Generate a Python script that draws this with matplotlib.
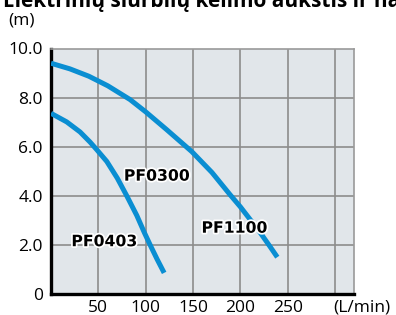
import matplotlib
matplotlib.use("Agg")
import matplotlib.pyplot as plt
import matplotlib.patheffects as pe
import matplotlib.transforms as mtransforms

plt.rcParams['font.family'] = ['Open Sans', 'DejaVu Sans']

# Data
pf0300_flow = [0, 20, 40, 60, 83.5, 100, 122, 148.7, 170, 189, 200, 220, 231, 239]
pf0300_head = [9.4, 9.17, 8.87, 8.48, 7.92, 7.42, 6.7, 5.8, 4.95, 4.05, 3.55, 2.55, 1.95, 1.5]
pf0403_flow = [0, 16.6, 30.7, 41.2, 48.3, 58.9, 70, 80, 90.6, 98.6, 104.7, 112, 119.5]
pf0403_head = [7.36, 7.01, 6.6, 6.19, 5.88, 5.4, 4.72, 4.0, 3.2, 2.5, 2.0, 1.42, 0.86]

labels = ["PF0300", "PF1100", "PF0403"]
label_x = [112, 194, 56.5]
label_y = [4.8, 2.68, 2.13]

xticks = [50, 100, 150, 200, 250]
yticks = [0, 2, 4, 6, 8, 10]
ytick_labels = ["0", "2.0", "4.0", "6.0", "8.0", "10.0"]
grid_x = [50, 100, 150, 200, 250, 300]

W, H = 396, 315
fig = plt.figure(figsize=(W / 100, H / 100), dpi=100)
ax = fig.add_axes([51 / W, (H - 294) / H, (354 - 51) / W, (294 - 48.5) / H])
ax.set_facecolor('#e1e6ea')
ax.set_xlim(0, 320)
ax.set_ylim(0, 10)

for gx in grid_x:
    ax.axvline(gx, color='#8c8c8c', lw=1.2, zorder=1)
for gy in yticks[1:-1]:
    ax.axhline(gy, color='#8c8c8c', lw=1.2, zorder=1)

blue = '#0a8ed2'
ax.plot(pf0300_flow, pf0300_head, color=blue, lw=3.6, solid_capstyle='butt',
        solid_joinstyle='round', zorder=3)
ax.plot(pf0403_flow, pf0403_head, color=blue, lw=3.6, solid_capstyle='butt',
        solid_joinstyle='round', zorder=3)

for t, x, y in zip(labels, label_x, label_y):
    ax.text(x, y, t, ha='center', va='center', fontsize=11.3, fontweight='bold',
            family='DejaVu Sans', color='black', zorder=5,
            path_effects=[pe.withStroke(linewidth=2.5, foreground='white')])

ax.set_xticks(xticks)
ax.set_xticklabels([str(v) for v in xticks], fontsize=12.5)
ax.set_yticks(yticks)
ax.set_yticklabels(ytick_labels, fontsize=12.5)
ax.tick_params(axis='x', length=0, pad=4)
ax.tick_params(axis='y', length=0, pad=6)

for s in ['top', 'right']:
    ax.spines[s].set_color('#9a9a9a')
    ax.spines[s].set_linewidth(1.2)
for s in ['left', 'bottom']:
    ax.spines[s].set_color('black')
    ax.spines[s].set_linewidth(2.4)

off = mtransforms.offset_copy(ax.transData, fig=fig, x=0, y=-4, units='points')
ax.text(328, 0, "(L/min)", ha='center', va='top', fontsize=12.5,
        transform=off, clip_on=False)

fig.text(8 / W, 1 - 20.5 / H, "(m)", ha='left', va='center', fontsize=12.5)
fig.text(3 / W, 1 - 7 / H, "Elektrinių siurblių kėlimo aukštis ir našumas",
         ha='left', va='baseline', fontsize=15, fontweight='bold')

fig.savefig("out.png", dpi=100)
